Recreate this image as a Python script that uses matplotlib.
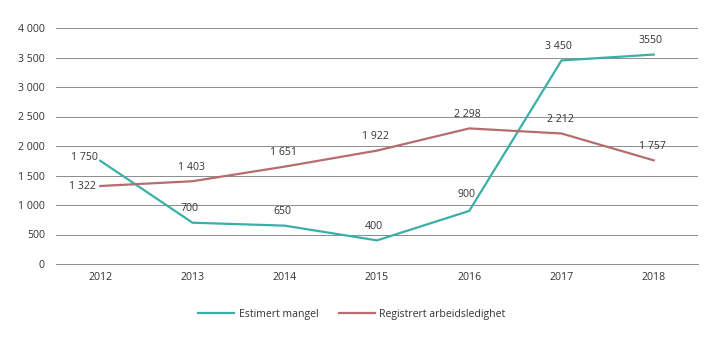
import matplotlib
matplotlib.use("Agg")
import matplotlib.pyplot as plt

# data
years = ["2012", "2013", "2014", "2015", "2016", "2017", "2018"]
estimert = [1750, 700, 650, 400, 900, 3450, 3550]
registrert = [1322, 1403, 1651, 1922, 2298, 2212, 1757]
estimert_labels = ["1 750", "700", "650", "400", "900", "3 450", "3550"]
registrert_labels = ["1 322", "1 403", "1 651", "1 922", "2 298", "2 212", "1 757"]
yticks = [0, 500, 1000, 1500, 2000, 2500, 3000, 3500, 4000]

TEAL = "#3aafa8"
ROSE = "#b56d6d"
TEXT = "#333333"
FS = 7.6

plt.rcParams["font.family"] = ["Open Sans", "DejaVu Sans"]

fig = plt.figure(figsize=(7.19, 3.41), dpi=100)
ax = fig.add_axes([56 / 719, 1 - 264 / 341, (698 - 56) / 719, (264 - 28) / 341])

x = list(range(len(years)))
ax.plot(x, estimert, color=TEAL, lw=1.6, label="Estimert mangel", zorder=3)
ax.plot(x, registrert, color=ROSE, lw=1.6, label="Registrert arbeidsledighet", zorder=3)

# point labels
for i, (v, s) in enumerate(zip(estimert, estimert_labels)):
    if i == 0:
        ax.annotate(s, (i, v), xytext=(-2, 2), textcoords="offset points",
                    ha="right", va="center", fontsize=FS, color=TEXT)
    else:
        dy = 12 if i == 4 else 10
        ax.annotate(s, (i, v), xytext=(-2, dy), textcoords="offset points",
                    ha="center", va="center", fontsize=FS, color=TEXT)
for i, (v, s) in enumerate(zip(registrert, registrert_labels)):
    if i == 0:
        ax.annotate(s, (i, v), xytext=(-3, 0), textcoords="offset points",
                    ha="right", va="center", fontsize=FS, color=TEXT)
    else:
        ax.annotate(s, (i, v), xytext=(-1, 10), textcoords="offset points",
                    ha="center", va="center", fontsize=FS, color=TEXT)

ax.set_xlim(-0.48, len(years) - 1 + 0.48)
ax.set_ylim(0, 4000)
ax.set_xticks(x)
ax.set_xticklabels(years)
ax.set_yticks(yticks)
ax.set_yticklabels([f"{t:,}".replace(",", " ") for t in yticks])
ax.tick_params(length=0, labelsize=FS, colors=TEXT, pad=6)
ax.tick_params(axis="y", pad=8)

ax.grid(axis="y", color="#8c8c8c", lw=0.7)
ax.set_axisbelow(True)
for side in ["top", "right", "left"]:
    ax.spines[side].set_visible(False)
ax.spines["bottom"].set_color("#8c8c8c")
ax.spines["bottom"].set_linewidth(0.7)

fig.legend(loc="center", bbox_to_anchor=(352 / 719, 1 - 314 / 341), ncol=2,
           frameon=False, fontsize=FS, handlelength=3.4, handletextpad=0.4,
           columnspacing=2.0, labelcolor=TEXT)

fig.savefig("out.png", dpi=100, facecolor="white")
